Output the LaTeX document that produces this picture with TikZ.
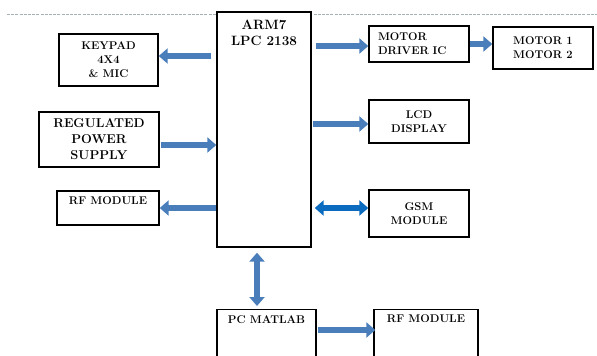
\documentclass[tikz,border=0pt]{standalone}
\usepackage{xcolor}
\usepackage{tikz}
\usetikzlibrary{arrows.meta,positioning,calc}
\definecolor{cb}{HTML}{4A7EBB}
\definecolor{cs}{HTML}{0B6BBF}
\definecolor{cl}{HTML}{A3B3B3}
\tikzset{
  blk/.style={draw, line width=1.4pt, fill=white, inner sep=0pt, align=center, font=\bfseries\fontsize{11.2}{14}\selectfont},
  txt/.style={inner sep=0pt, align=center, font=\bfseries\fontsize{11.2}{14}\selectfont},
  flow/.style={line width=6.5pt, cb, -{Triangle[width=15pt,length=9pt]}},
  twoway/.style={line width=6.5pt, cb, {Triangle[width=15pt,length=9pt]}-{Triangle[width=15pt,length=9pt]}},
}

\begin{document}
\begin{tikzpicture}[x=1pt,y=-1pt]
  \useasboundingbox (0,0) rectangle (597,356);
  \clip (0,0) rectangle (597,356);
  \draw[cl, line width=1pt, dash pattern=on 3pt off 1.2pt] (7,14) -- (597,14);
  \node[blk, minimum width=99pt, minimum height=52pt] (kp) at (108.5,60) {KEYPAD\\4X4\\\& MIC};
  \node[blk, minimum width=120pt, minimum height=55pt, font=\bfseries\fontsize{12.8}{16}\selectfont] (rps) at (99,139.5) {REGULATED\\POWER\\SUPPLY};
  \node[blk, minimum width=102pt, minimum height=34pt] (rfl) at (108,208) {};
  \node[txt, below=6pt of rfl.north] (rflt) {RF MODULE};
  \node[blk, minimum width=94pt, minimum height=235pt] (arm) at (264,129.5) {};
  \node[txt, below=9pt of arm.north, font=\bfseries\fontsize{13.5}{16}\selectfont] (armt) {ARM7\\LPC 2138};
  \node[blk, minimum width=100pt, minimum height=36pt, align=left, text width=82pt] (md) at (419,44) {MOTOR\\DRIVER IC};
  \node[blk, minimum width=100pt, minimum height=42pt] (mot) at (543,48) {MOTOR 1\\MOTOR 2};
  \node[blk, minimum width=100pt, minimum height=43pt] (lcd) at (419,121.5) {LCD\\DISPLAY};
  \node[blk, minimum width=100pt, minimum height=47pt] (gsm) at (419,213.5) {GSM\\MODULE};
  \node[blk, minimum width=99pt, minimum height=80pt, anchor=north] (pc) at (266.5,309) {};
  \node[txt, below=6pt of pc.north] (pct) {PC MATLAB};
  \node[blk, minimum width=104pt, minimum height=80pt, anchor=north] (rfr) at (426,309) {};
  \node[txt, below=5pt of rfr.north] (rfrt) {RF MODULE};
  \draw[flow] ($(arm.west |- kp.east)+(-5,-4)$) -- ($(kp.east)+(0,-4)$);
  \draw[flow] ($(rps.east)+(1,5.5)$) -- ($(arm.west |- rps.east)+(0,5.5)$);
  \draw[flow] (arm.west |- rfl.east) -- (rfl.east);
  \draw[flow] ($(arm.east |- md.west)+(4,2)$) -- ($(md.west)+(0,2)$);
  \draw[flow] (md.east) -- (md.east -| mot.west);
  \draw[flow] ($(arm.east |- lcd.west)+(1,2.5)$) -- ($(lcd.west)+(0,2.5)$);
  \draw[twoway, cs] ($(arm.east |- gsm.west)+(3,-5.5)$) -- ($(gsm.west)+(0,-5.5)$);
  \draw[twoway] ($(arm.south)+(-7,5)$) -- ($(arm.south |- pc.north)+(-7,-3)$);
  \draw[flow] ($(pc.north east)+(1,21)$) -- ($(rfr.north west)+(2,21)$);
\end{tikzpicture}
\end{document}
